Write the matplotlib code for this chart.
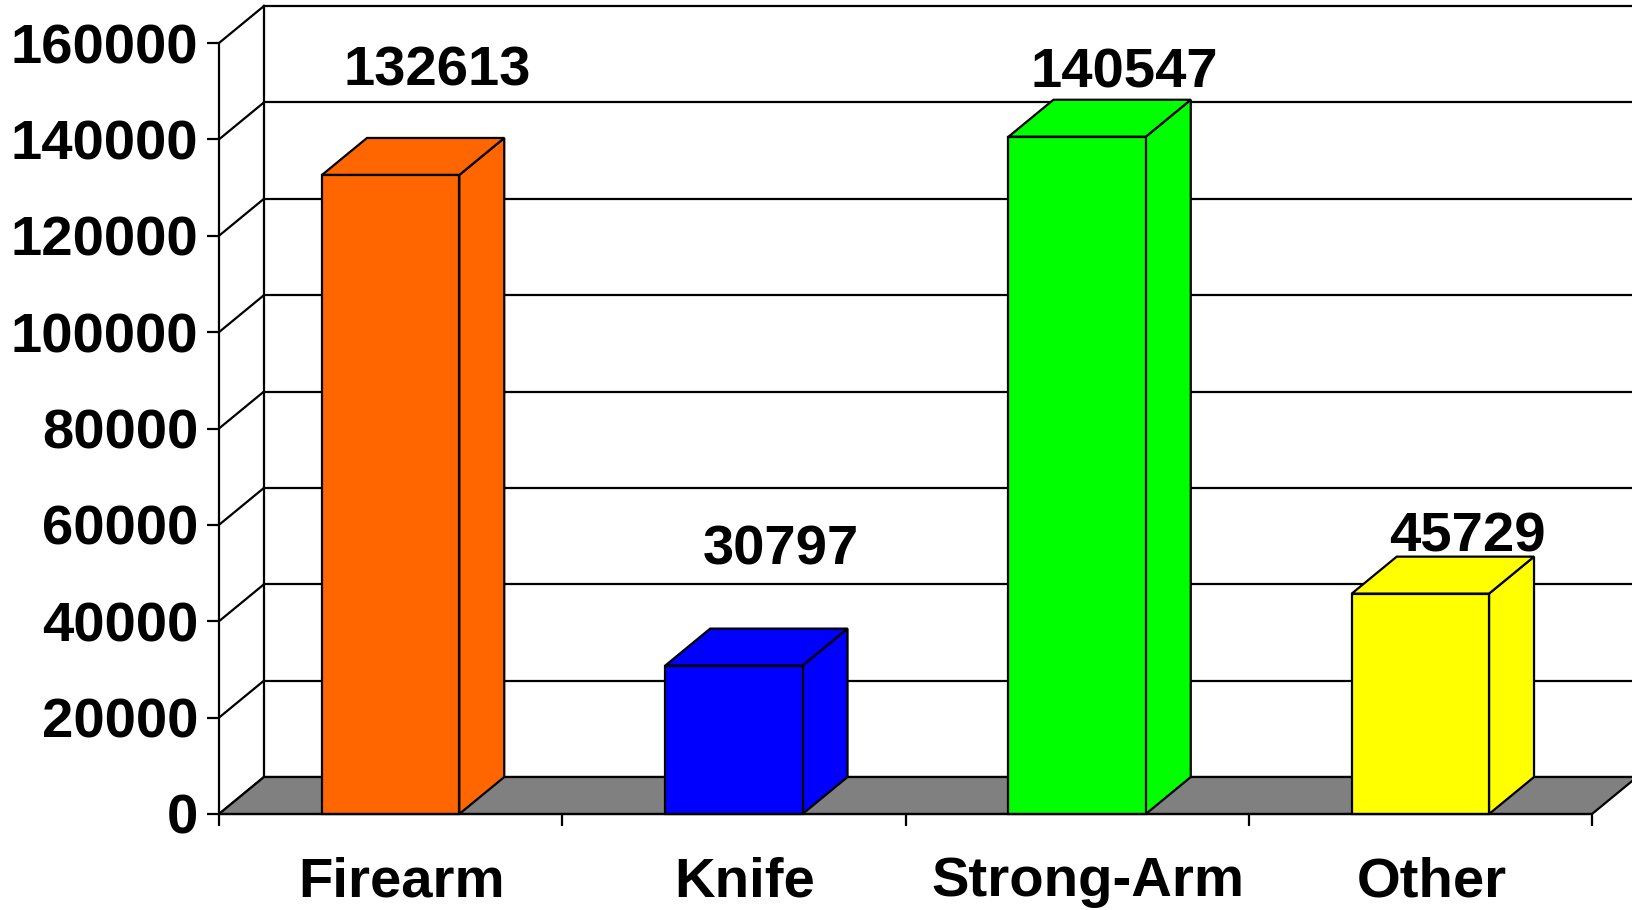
import matplotlib
matplotlib.use("Agg")
import matplotlib.pyplot as plt
from matplotlib.patches import Polygon

# Data
categories = ["Firearm", "Knife", "Strong-Arm", "Other"]
values = [132613, 30797, 140547, 45729]
yticks = [0, 20000, 40000, 60000, 80000, 100000, 120000, 140000, 160000]

# Style
bar_colors = ["#FF6600", "#0000FF", "#00FF00", "#FFFF00"]
floor_color = "#808080"
label_lift = [52, 64, 12, 5]   # pixels above the back top edge of each bar
bar_width = 0.4
lw = 1.6
fs = 40.5
plt.rcParams["font.family"] = ["Liberation Sans", "DejaVu Sans"]
plt.rcParams["font.weight"] = "bold"

W, H = 1632, 910
fig = plt.figure(figsize=(W / 100, H / 100), dpi=100)
ax = fig.add_axes([219 / W, (H - 814) / H, (1592 - 219) / W, (814 - 43) / H])
ax.set_xlim(0, len(categories))
ax.set_ylim(0, yticks[-1])
ax.patch.set_visible(False)

# depth of the 3d box, 45 px right and 37 px up, in data units
ddx = 45 * len(categories) / (1592 - 219)
ddy = 37 * yticks[-1] / (814 - 43)
n = len(categories)

# back wall
for v in yticks:
    ax.plot([ddx, n + ddx], [v + ddy, v + ddy], color="black", lw=lw, clip_on=False, zorder=1)
    ax.plot([0, ddx], [v, v + ddy], color="black", lw=lw, clip_on=False, zorder=1)
ax.plot([ddx, ddx], [ddy, yticks[-1] + ddy], color="black", lw=lw, clip_on=False, zorder=1)

# floor
floor = Polygon([(0, 0), (n, 0), (n + ddx, ddy), (ddx, ddy)], closed=True,
                fc=floor_color, ec="black", lw=lw, clip_on=False, zorder=2)
ax.add_patch(floor)

# bars
for i, (v, c) in enumerate(zip(values, bar_colors)):
    x0 = i + 0.5 - bar_width / 2
    x1 = x0 + bar_width
    front = [(x0, 0), (x1, 0), (x1, v), (x0, v)]
    top = [(x0, v), (x1, v), (x1 + ddx, v + ddy), (x0 + ddx, v + ddy)]
    side = [(x1, 0), (x1 + ddx, ddy), (x1 + ddx, v + ddy), (x1, v)]
    for pts in (side, top, front):
        ax.add_patch(Polygon(pts, closed=True, fc=c, ec="black", lw=lw,
                             joinstyle="miter", clip_on=False, zorder=3))
    ax.annotate(str(v), xy=(i + 0.5 + ddx, v + ddy), xytext=(2, label_lift[i]),
                textcoords="offset pixels", ha="center", va="baseline",
                fontsize=fs, fontweight="bold", annotation_clip=False)

# axes
for s in ("top", "right"):
    ax.spines[s].set_visible(False)
for s in ("left", "bottom"):
    ax.spines[s].set_linewidth(lw)
    ax.spines[s].set_zorder(4)
ax.set_yticks(yticks)
ax.set_yticklabels([str(t) for t in yticks], fontsize=fs, fontweight="bold")
ax.tick_params(axis="y", length=8.6, width=lw, direction="out", pad=6.5)
ax.set_xticks(range(n + 1))
ax.set_xticklabels([])
ax.set_xticks([i + 0.5 + ddx / 4 for i in range(n)], minor=True)
ax.set_xticklabels(categories, minor=True, fontsize=fs, fontweight="bold")
ax.tick_params(axis="x", which="major", length=8.6, width=lw, direction="out")
ax.tick_params(axis="x", which="minor", length=0, pad=30.5)

fig.savefig("out.png", dpi=100)
